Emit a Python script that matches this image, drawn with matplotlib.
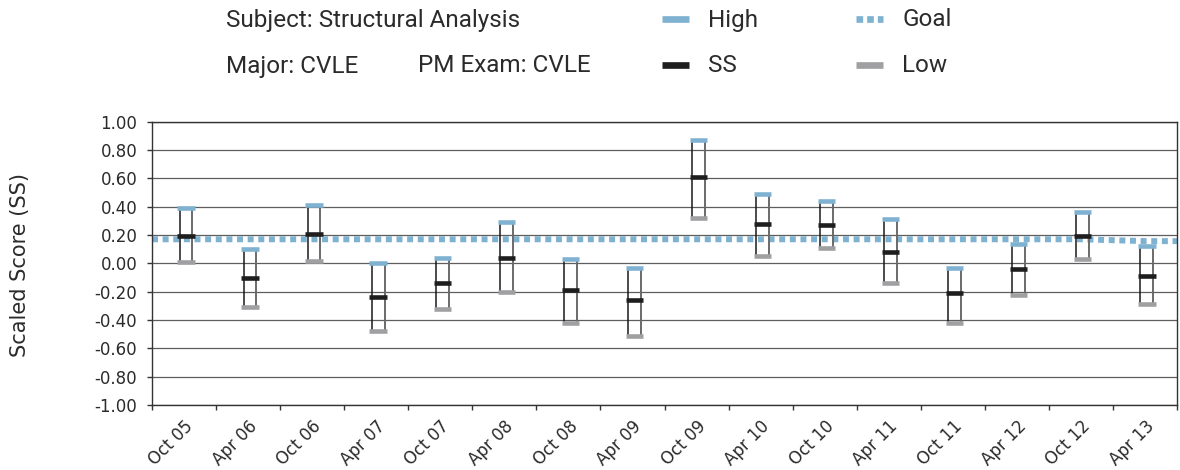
import numpy as np
import matplotlib
matplotlib.use("Agg")
import matplotlib.pyplot as plt
from matplotlib.lines import Line2D

# data
terms = ['Oct 05', 'Apr 06', 'Oct 06', 'Apr 07', 'Oct 07', 'Apr 08', 'Oct 08', 'Apr 09',
         'Oct 09', 'Apr 10', 'Oct 10', 'Apr 11', 'Oct 11', 'Apr 12', 'Oct 12', 'Apr 13']
high = [0.39, 0.10, 0.41, 0.00, 0.04, 0.29, 0.03, -0.03, 0.87, 0.49, 0.44, 0.31, -0.03, 0.14, 0.36, 0.12]
ss = [0.19, -0.10, 0.21, -0.24, -0.14, 0.04, -0.19, -0.26, 0.61, 0.28, 0.27, 0.08, -0.21, -0.04, 0.19, -0.09]
low = [0.01, -0.31, 0.02, -0.48, -0.32, -0.20, -0.42, -0.51, 0.32, 0.05, 0.11, -0.14, -0.42, -0.22, 0.03, -0.29]
goal = [0.17, 0.17, 0.17, 0.17, 0.17, 0.17, 0.17, 0.17, 0.17, 0.17, 0.17, 0.17, 0.17, 0.17, 0.17, 0.157]

y_ticks = [-1.0, -0.8, -0.6, -0.4, -0.2, 0.0, 0.2, 0.4, 0.6, 0.8, 1.0]

C_HIGH = '#7fb2d0'
C_SS = '#1e1e1e'
C_LOW = '#a0a0a2'
C_TEXT = '#2b2b2b'

W, H = 1180, 470
fig = plt.figure(figsize=(W / 100, H / 100), dpi=100)


def fx(px):
    return px / W


def fy(py):
    return 1 - py / H


ax = fig.add_axes([fx(152), fy(405), fx(1177) - fx(152), fy(121.7) - fy(405)])

x = np.arange(len(terms))
box_x = x + 0.03  # boxes sit a hair right of the category centre

# goal line runs edge to edge
xg = np.r_[-0.5, x, len(terms) - 0.5]
yg = np.r_[goal[0], goal, goal[-1]]
ax.plot(xg, yg, color=C_HIGH, lw=4.3, linestyle=(0, (1, 0.78)), dash_capstyle='butt', zorder=2)

# boxes: two sides from low to high, then caps
ax.vlines(box_x - 0.1, low, high, color='#1a1a1a', lw=1.1, zorder=3)
ax.vlines(box_x + 0.1, low, high, color='#6a6a6a', lw=1.4, zorder=3)
ax.hlines(high, box_x - 0.135, box_x + 0.135, color=C_HIGH, lw=3.3, zorder=4)
ax.hlines(low, box_x - 0.135, box_x + 0.135, color=C_LOW, lw=3.3, zorder=4)
ax.hlines(ss, box_x - 0.135, box_x + 0.135, color=C_SS, lw=3.3, zorder=4)

ax.set_xlim(-0.5, len(terms) - 0.5)
ax.set_ylim(-1.0, 1.0)
ax.set_yticks(y_ticks)
ax.set_yticklabels([f'{v:.2f}' for v in y_ticks])
ax.yaxis.grid(True, color='#5e5e5e', lw=0.9)
ax.set_axisbelow(True)

ax.set_xticks(x)
ax.set_xticklabels(terms, rotation=45, ha='right', va='top', rotation_mode='anchor')
ax.set_xticks(np.arange(len(terms) + 1) - 0.5, minor=True)
ax.tick_params(axis='x', which='major', length=0, pad=9, labelsize=12, labelcolor=C_TEXT)
ax.tick_params(axis='x', which='minor', length=3.6, width=1, color='#333333', direction='out')
ax.tick_params(axis='y', length=3.6, width=1, color='#333333', pad=7, labelsize=12, labelcolor=C_TEXT)

for s in ax.spines.values():
    s.set_color('#333333')
    s.set_linewidth(1)

fig.text(fx(20), fy(265), 'Scaled Score (SS)', rotation=90, ha='center', va='center',
         fontsize=15, color=C_TEXT)

# header
hfont = dict(family=['Roboto', 'DejaVu Sans'], fontsize=17.5, color=C_TEXT, va='center')
fig.text(fx(226), fy(20), 'Subject: Structural Analysis', **hfont)
fig.text(fx(226), fy(66), 'Major: CVLE', **hfont)
fig.text(fx(418), fy(66), 'PM Exam: CVLE', **hfont)

legend_items = [('High', C_HIGH, '-', 662, 19), ('SS', C_SS, '-', 662, 65),
                ('Goal', C_HIGH, ':', 856, 19), ('Low', C_LOW, '-', 856, 65)]
for label, col, ls, px, py in legend_items:
    style = '-' if ls == '-' else (0, (1, 0.6))
    fig.add_artist(Line2D([fx(px), fx(px + 27)], [fy(py), fy(py)], color=col, lw=4.8,
                          linestyle=style, solid_capstyle='butt', dash_capstyle='butt'))
    fig.text(fx(px + 46), fy(py + 1), label, **hfont)

fig.savefig('out.png', dpi=100)
